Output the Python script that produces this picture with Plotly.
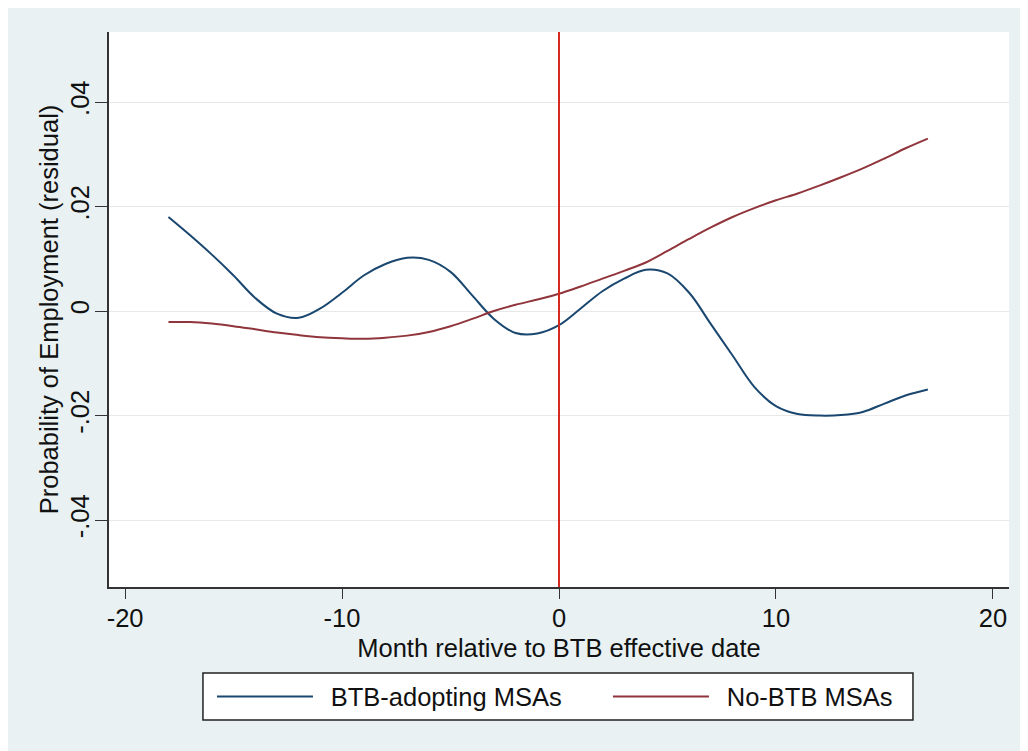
import plotly.graph_objects as go

months = list(range(-18, 18))
btb_adopting = [0.0180, 0.0145, 0.0108, 0.0068, 0.0025, -0.0005, -0.0013, 0.0005,
                0.0035, 0.0068, 0.0090, 0.0102, 0.0098, 0.0075, 0.0030, -0.0015,
                -0.0042, -0.0043, -0.0027, 0.0005, 0.0038, 0.0062, 0.0079, 0.0072,
                0.0035, -0.0025, -0.0085, -0.0145, -0.0182, -0.0197, -0.0200,
                -0.0199, -0.0193, -0.0177, -0.0161, -0.0150]
no_btb = [-0.0021, -0.0021, -0.0024, -0.0029, -0.0035, -0.0041, -0.0046, -0.0050,
          -0.0052, -0.0053, -0.0051, -0.0047, -0.0040, -0.0029, -0.0015, 0.0000,
          0.0012, 0.0022, 0.0033, 0.0047, 0.0062, 0.0077, 0.0093, 0.0115, 0.0138,
          0.0160, 0.0180, 0.0197, 0.0212, 0.0225, 0.0240, 0.0256, 0.0273, 0.0292,
          0.0312, 0.0330]
series_names = ["BTB-adopting MSAs", "No-BTB MSAs"]
event_month = 0
x_ticks = [-20, -10, 0, 10, 20]
x_tick_labels = ["-20", "-10", "0", "10", "20"]
y_ticks = [0.04, 0.02, 0.0, -0.02, -0.04]
y_tick_labels = [".04", ".02", "0", "-.02", "-.04"]

FONT = "Liberation Sans, Arial, Helvetica, sans-serif"
FS = 25.5
GAP = "\u2002"  # small gap between legend key and label

fig = go.Figure()
fig.add_trace(go.Scatter(x=months, y=btb_adopting, mode="lines", name=GAP + series_names[0],
                         line=dict(color="#1a476f", width=2, shape="spline", smoothing=1.0)))
fig.add_trace(go.Scatter(x=months, y=no_btb, mode="lines", name=GAP + series_names[1],
                         line=dict(color="#90353b", width=2, shape="spline", smoothing=1.0)))
fig.add_vline(x=event_month, line=dict(color="#d42a20", width=2))

# legend frame (paper coordinates, relative to plot area)
fig.add_shape(type="rect", xref="paper", yref="paper", x0=0.1044, x1=0.8933,
              y0=-0.2396, y1=-0.155, fillcolor="white",
              line=dict(color="#222222", width=1.5), layer="below")

fig.update_layout(
    width=1028, height=751,
    margin=dict(l=101, r=27, t=24, b=172, autoexpand=False),
    paper_bgcolor="#e9f1f3",
    plot_bgcolor="white",
    font=dict(family=FONT, size=FS, color="#111111"),
    showlegend=True,
    legend=dict(orientation="h", x=0.1144, xanchor="left", y=-0.198, yanchor="middle",
                bgcolor="rgba(0,0,0,0)", borderwidth=0,
                itemwidth=96, entrywidth=285, entrywidthmode="pixels",
                font=dict(size=FS)),
)
fig.update_xaxes(range=[-20.74, 20.74], tickvals=x_ticks, ticktext=x_tick_labels,
                 ticks="outside", ticklen=10, ticklabelstandoff=-2, automargin=False,
                 tickcolor="#333333", showline=True, linecolor="#333333", linewidth=1.5,
                 showgrid=False, zeroline=False,
                 title=dict(text="Month relative to BTB effective date", standoff=8,
                            font=dict(size=FS)),
                 tickfont=dict(size=FS))
fig.update_yaxes(range=[-0.0528, 0.0534], tickvals=y_ticks, ticktext=y_tick_labels,
                 tickangle=-90, ticks="outside", ticklen=12, tickcolor="#333333",
                 ticklabelstandoff=-4,
                 automargin=False,
                 showline=True, linecolor="#333333", linewidth=1.5,
                 showgrid=True, gridcolor="#e8e8e8", gridwidth=1, zeroline=False,
                 title=dict(text="Probability of Employment (residual)", standoff=0,
                            font=dict(size=FS)),
                 tickfont=dict(size=FS))

fig.write_html("out.html")
